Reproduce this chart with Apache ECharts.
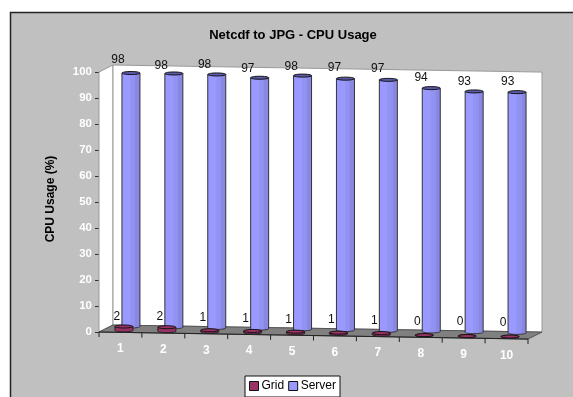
<!DOCTYPE html>
<html>
<head>
<meta charset="utf-8">
<style>
  html, body { margin: 0; padding: 0; background: #fff; }
  #chart { width: 573px; height: 397px; }
</style>
<script src="https://cdn.jsdelivr.net/npm/echarts@6/dist/echarts.min.js"></script>
</head>
<body>
<div id="chart"></div>
<script>
const categories = ['1', '2', '3', '4', '5', '6', '7', '8', '9', '10'];
const gridValues = [1.5, 1.5, 0.6, 0.6, 0.6, 0.5, 0.6, 0.1, 0, 0.1];
const serverValues = [97.5, 97.6, 97.5, 96.5, 97.6, 96.7, 96.5, 93.6, 92.6, 92.6];
const yTicks = { min: 0, max: 100, interval: 10 };

// fake 3d: the whole floor leans down to the right
const FONT = '"Liberation Sans", Arial, sans-serif';
const TILT = 0.0165;
const DEPTH_X = 14;
const DEPTH_Y = -7;
const GRID_LEFT = 99;
const RX = 9;
const RY = 1.5;

// excel moved the server labels around a little
const serverLabelNudge = [-3, 2, 0, 1, 1, -1, -1, 0, 0, 0];

const lean = (x) => (x - GRID_LEFT) * TILT;

const cylinder = (x, yTop, yBase, fill, topFill, sideColor) => ({
  type: 'group',
  children: [
    {
      type: 'ellipse',
      shape: { cx: x, cy: yBase, rx: RX, ry: RY },
      style: { fill, stroke: sideColor, lineWidth: 1 }
    },
    {
      type: 'rect',
      shape: { x: x - RX, y: yTop, width: RX * 2, height: yBase - yTop },
      style: { fill }
    },
    {
      type: 'line',
      shape: { x1: x - RX, y1: yTop, x2: x - RX, y2: yBase },
      style: { stroke: sideColor, lineWidth: 1 }
    },
    {
      type: 'line',
      shape: { x1: x + RX, y1: yTop, x2: x + RX, y2: yBase },
      style: { stroke: sideColor, lineWidth: 1 }
    },
    {
      type: 'ellipse',
      shape: { cx: x, cy: yTop, rx: RX, ry: RY },
      style: { fill: topFill, stroke: '#111', lineWidth: 1 }
    }
  ]
});

const renderWalls = (params, api) => {
  const box = params.coordSys;
  const x0 = box.x;
  const x1 = box.x + box.width;
  const yTop = api.coord([0, yTicks.max])[1];
  const yBase = api.coord([0, yTicks.min])[1];
  const drop = lean(x1);

  return {
    type: 'group',
    children: [
      {
        type: 'polygon',
        shape: { points: [[x0, yTop], [x0 + DEPTH_X, yTop + DEPTH_Y], [x0 + DEPTH_X, yBase + DEPTH_Y], [x0, yBase]] },
        style: { fill: '#fff', stroke: '#999', lineWidth: 1 }
      },
      {
        type: 'polygon',
        shape: { points: [[x0 + DEPTH_X, yTop + DEPTH_Y], [x1 + DEPTH_X, yTop + DEPTH_Y + drop], [x1 + DEPTH_X, yBase + DEPTH_Y + drop], [x0 + DEPTH_X, yBase + DEPTH_Y]] },
        style: { fill: '#fff', stroke: '#999', lineWidth: 1 }
      },
      {
        type: 'polygon',
        shape: { points: [[x0, yBase], [x0 + DEPTH_X, yBase + DEPTH_Y], [x1 + DEPTH_X, yBase + DEPTH_Y + drop], [x1, yBase + drop]] },
        style: { fill: '#808080', stroke: '#555', lineWidth: 1 }
      }
    ]
  };
};

const renderXAxis = (params, api) => {
  const i = params.dataIndex;
  const center = api.coord([i, 0]);
  const band = api.size([1, 0])[0];
  const left = center[0] - band / 2;
  const right = center[0] + band / 2;
  const children = [
    {
      type: 'line',
      shape: { x1: left, y1: center[1] + lean(left), x2: right, y2: center[1] + lean(right) },
      style: { stroke: '#222', lineWidth: 1 }
    },
    {
      type: 'line',
      shape: { x1: right, y1: center[1] + lean(right), x2: right, y2: center[1] + lean(right) + 5 },
      style: { stroke: '#222', lineWidth: 1 }
    },
    {
      type: 'text',
      style: {
        x: center[0],
        y: center[1] + lean(center[0]) + 16.5,
        text: categories[i],
        fill: '#fff',
        font: `bold 12px ${FONT}`,
        align: 'center',
        verticalAlign: 'middle'
      }
    }
  ];

  if (i === 0) {
    children.push({
      type: 'line',
      shape: { x1: left, y1: center[1], x2: left, y2: center[1] + 5 },
      style: { stroke: '#222', lineWidth: 1 }
    });
  }

  return { type: 'group', children };
};

const renderGrid = (params, api) => {
  const i = params.dataIndex;
  const p = api.coord([i, api.value(1)]);
  const base = api.coord([i, 0]);
  const x = p[0] + 3.5;
  const drop = lean(x) - 2;
  const bar = cylinder(x, p[1] + drop, base[1] + drop, '#993366', '#993366', '#222');

  bar.children.push({
    type: 'text',
    style: {
      x: x - 7,
      y: base[1] + drop - 14,
      text: String(Math.round(api.value(1))),
      fill: '#111',
      font: `12px ${FONT}`,
      align: 'center',
      verticalAlign: 'middle'
    }
  });

  return bar;
};

const renderServer = (params, api) => {
  const i = params.dataIndex;
  const p = api.coord([i, api.value(1)]);
  const base = api.coord([i, 0]);
  const x = p[0] + 10.5;
  const drop = lean(x) - 6;
  const fill = new echarts.graphic.LinearGradient(0, 0, 1, 0, [
    { offset: 0, color: '#9999ff' },
    { offset: 0.45, color: '#9999ff' },
    { offset: 0.45, color: '#9494f5' },
    { offset: 0.75, color: '#9090ee' },
    { offset: 0.75, color: '#8888e2' },
    { offset: 1, color: '#8888e2' }
  ]);
  const bar = cylinder(x, p[1] + drop, base[1] + drop, fill, '#5a5aa8', '#333');

  bar.children.push({
    type: 'text',
    style: {
      x: x - 13 + i * 0.4,
      y: p[1] + drop - 10 + serverLabelNudge[i],
      text: String(Math.round(api.value(1))),
      fill: '#111',
      font: `12px ${FONT}`,
      align: 'center',
      verticalAlign: 'middle'
    }
  });

  return bar;
};

const chart = echarts.init(document.getElementById('chart'));

chart.setOption({
  animation: false,
  graphic: [
    {
      type: 'rect',
      z: -10,
      shape: { x: 10.5, y: 12.5, width: 600, height: 420 },
      style: { fill: '#c0c0c0', stroke: '#222', lineWidth: 1.5 }
    }
  ],
  title: {
    text: 'Netcdf to JPG - CPU Usage',
    left: 288,
    top: 24,
    textAlign: 'center',
    textStyle: { fontFamily: FONT, fontSize: 13, fontWeight: 'bold', color: '#000' }
  },
  legend: {
    data: [
      { name: 'Grid', itemStyle: { color: '#993366', borderColor: '#111', borderWidth: 1 } },
      { name: 'Server', itemStyle: { color: '#9999ff', borderColor: '#111', borderWidth: 1 } }
    ],
    left: 245,
    top: 376,
    icon: 'rect',
    itemWidth: 9,
    itemHeight: 9,
    itemGap: 4,
    padding: [4, 4, 5, 4],
    backgroundColor: '#fff',
    borderColor: '#111',
    borderWidth: 1,
    borderRadius: 0,
    selectedMode: false,
    textStyle: { fontFamily: FONT, fontSize: 12, color: '#000', padding: [0, 0, 0, -2] }
  },
  grid: { left: GRID_LEFT, top: 72, width: 429, height: 260 },
  xAxis: {
    type: 'category',
    data: categories,
    show: false
  },
  yAxis: {
    type: 'value',
    min: yTicks.min,
    max: yTicks.max,
    interval: yTicks.interval,
    name: 'CPU Usage (%)',
    nameLocation: 'middle',
    nameGap: 42,
    nameTextStyle: { fontFamily: FONT, fontSize: 12, fontWeight: 'bold', color: '#000', padding: [0, 0, 0, 6] },
    axisLine: { show: true, lineStyle: { color: '#333', width: 1 } },
    axisTick: { show: true, length: 4, lineStyle: { color: '#333' } },
    axisLabel: { margin: 7, fontFamily: FONT, fontSize: 11.5, fontWeight: 'bold', color: '#fff' },
    splitLine: { show: false }
  },
  series: [
    { name: 'walls', type: 'custom', z: 1, data: [[0, 0]], renderItem: renderWalls, silent: true },
    { name: 'xaxis', type: 'custom', z: 5, data: categories.map((c, i) => [i, 0]), renderItem: renderXAxis, silent: true },
    { name: 'Server', type: 'custom', z: 2, data: serverValues.map((v, i) => [i, v]), renderItem: renderServer },
    { name: 'Grid', type: 'custom', z: 3, data: gridValues.map((v, i) => [i, v]), renderItem: renderGrid }
  ]
});
</script>
</body>
</html>
